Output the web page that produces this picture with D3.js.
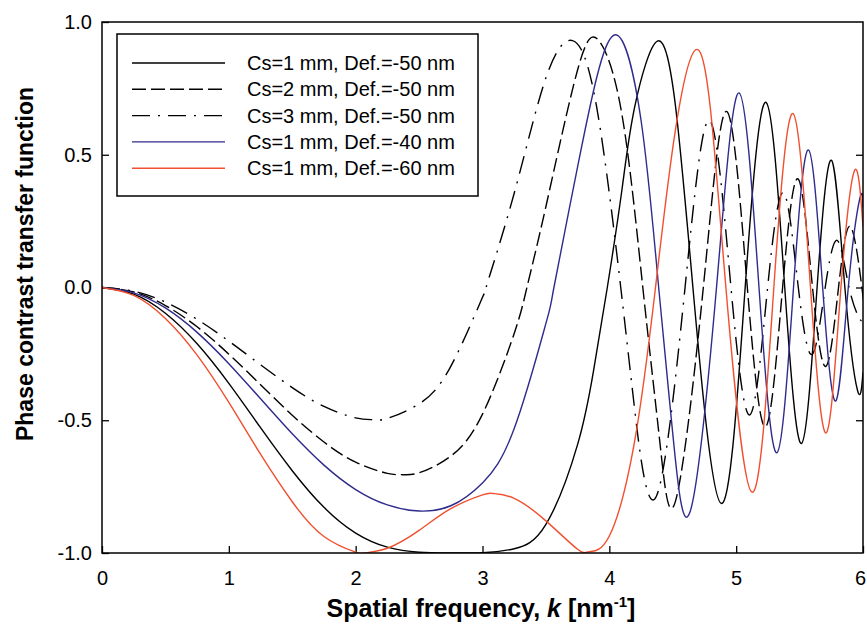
<!DOCTYPE html>
<html>
<head>
<meta charset="utf-8">
<script src="https://d3js.org/d3.v7.min.js"></script>
<style>
    body { margin: 0; background: #fff; }
    #chart { width: 867px; height: 638px; }
    text { font-family: "Liberation Sans", Arial, sans-serif; }
</style>
</head>
<body>
<div id="chart"></div>
<script>

// tick values
const xTicks = [0, 1, 2, 3, 4, 5, 6];
const yTicks = [-1.0, -0.5, 0.0, 0.5, 1.0];
const innerTicksY = [-0.5, 0.0, 0.5];

const seriesLabels = [
    "Cs=1 mm, Def.=-50 nm",
    "Cs=2 mm, Def.=-50 nm",
    "Cs=3 mm, Def.=-50 nm",
    "Cs=1 mm, Def.=-40 nm",
    "Cs=1 mm, Def.=-60 nm"
];

// [k, PCTF]
const cs1Def50 = [[0,0],[0.25,-0.025],[0.5,-0.097],[0.75,-0.212],[1.0,-0.361],[1.25,-0.528],[1.5,-0.690],
    [1.75,-0.828],[2.0,-0.925],[2.25,-0.978],[2.5,-0.997],[2.75,-1.0],[3.0,-0.999],[3.25,-0.984],[3.5,-0.892],
    [3.75,-0.591],[3.875,-0.315],[3.984,0],[4.1,0.37],[4.2,0.68],[4.379,0.928],[4.52,0.69],[4.659,0],[4.882,-0.813],
    [5.071,0],[5.236,0.697],[5.383,0],[5.516,-0.587],[5.638,0],[5.752,0.479],[5.857,0],[5.957,-0.388],[6.0,-0.32]];

const cs2Def50 = [[0,0],[0.25,-0.017],[0.5,-0.068],[0.75,-0.148],[1.0,-0.251],[1.25,-0.366],[1.5,-0.481],
    [1.75,-0.582],[2.0,-0.658],[2.25,-0.700],[2.369,-0.705],[2.5,-0.698],[2.75,-0.635],[3.0,-0.477],[3.25,-0.173],
    [3.35,0],[3.5,0.305],[3.75,0.82],[3.917,0.93],[4.1,0.65],[4.264,0],[4.4,-0.59],[4.526,-0.797],[4.741,0],
    [4.925,0.663],[5.088,0],[5.233,-0.524],[5.366,0],[5.488,0.409],[5.602,0],[5.708,-0.297],[5.807,0],
    [5.902,0.229],[5.991,0],[6.0,-0.03]];

const cs3Def50 = [[0,0],[0.25,-0.014],[0.5,-0.055],[0.75,-0.120],[1.0,-0.202],[1.25,-0.291],[1.5,-0.377],
    [1.75,-0.448],[2.0,-0.491],[2.141,-0.498],[2.25,-0.493],[2.5,-0.438],[2.75,-0.297],[3.0,-0.037],[3.028,0],
    [3.25,0.355],[3.5,0.79],[3.71,0.93],[3.9,0.68],[4.09,0],[4.2,-0.46],[4.37,-0.787],[4.597,0],[4.79,0.629],
    [4.959,0],[5.11,-0.479],[5.248,0],[5.374,0.357],[5.49,0],[5.599,-0.252],[5.702,0],[5.798,0.177],[5.89,0],
    [5.977,-0.12],[6.0,-0.11]];

const cs1Def40 = [[0,0],[0.25,-0.020],[0.5,-0.077],[0.75,-0.169],[1.0,-0.287],[1.25,-0.419],[1.5,-0.551],
    [1.75,-0.669],[2.0,-0.761],[2.25,-0.819],[2.5,-0.842],[2.75,-0.822],[3.0,-0.736],[3.25,-0.531],[3.5,-0.135],
    [3.563,0],[3.75,0.455],[3.9,0.79],[4.065,0.95],[4.25,0.63],[4.389,0],[4.5,-0.55],[4.638,-0.843],[4.845,0],
    [5.023,0.733],[5.18,0],[5.322,-0.622],[5.452,0],[5.571,0.518],[5.682,0],[5.786,-0.427],[5.884,0],
    [5.976,0.337],[6.0,0.30]];

const cs1Def60 = [[0,0],[0.25,-0.030],[0.5,-0.117],[0.75,-0.255],[1.0,-0.433],[1.25,-0.628],[1.5,-0.807],
    [1.75,-0.938],[2.0,-0.997],[2.07,-1.0],[2.25,-0.982],[2.5,-0.915],[2.75,-0.833],[3.0,-0.781],[3.085,-0.776],
    [3.25,-0.794],[3.5,-0.879],[3.75,-0.986],[3.842,-0.995],[4.0,-0.936],[4.2,-0.578],[4.364,0],[4.52,0.59],
    [4.683,0.896],[4.8,0.66],[4.919,0],[5.125,-0.771],[5.297,0],[5.449,0.655],[5.586,0],[5.711,-0.547],
    [5.826,0],[5.934,0.441],[6.0,0.23]];

const seriesData = [cs1Def50, cs2Def50, cs3Def50, cs1Def40, cs1Def60];
const seriesColors = ["#000000", "#000000", "#000000", "#2f2b8c", "#f0502f"];
const seriesDash = ["none", "14,5", "18,8,2,8", "none", "none"];


class PctfVis {

    constructor(parentElement) {
        this.parentElement = parentElement;
        this.initVis();
    }

    initVis() {
        let vis = this;

        vis.margin = {top: 22, right: 4, bottom: 85, left: 102};
        vis.width = 867 - vis.margin.left - vis.margin.right;
        vis.height = 638 - vis.margin.top - vis.margin.bottom;

        vis.svgRoot = d3.select("#" + vis.parentElement).append("svg")
            .attr("width", 867)
            .attr("height", 638);

        vis.svg = vis.svgRoot.append("g")
            .attr("transform", `translate(${vis.margin.left}, ${vis.margin.top})`);

        vis.x = d3.scaleLinear().domain([0, 6]).range([0, vis.width]);
        vis.y = d3.scaleLinear().domain([-1, 1]).range([vis.height, 0]);

        vis.svg.append("clipPath").attr("id", "plot-clip")
            .append("rect")
            .attr("width", vis.width)
            .attr("height", vis.height);

        // axes (ticks point inwards)
        vis.xAxis = d3.axisBottom(vis.x)
            .tickValues(xTicks)
            .tickFormat(d3.format("d"))
            .tickSizeInner(-7)
            .tickSizeOuter(0)
            .tickPadding(18);

        vis.yAxis = d3.axisLeft(vis.y)
            .tickValues(yTicks)
            .tickFormat(d3.format(".1f"))
            .tickSizeInner(-7)
            .tickSizeOuter(0)
            .tickPadding(10);

        vis.yAxisRight = d3.axisRight(vis.y)
            .tickValues(innerTicksY)
            .tickFormat("")
            .tickSizeInner(-7)
            .tickSizeOuter(0);

        vis.xAxisGroup = vis.svg.append("g")
            .attr("class", "x-axis")
            .attr("transform", `translate(0, ${vis.height})`)
            .call(vis.xAxis);

        vis.yAxisGroup = vis.svg.append("g")
            .attr("class", "y-axis")
            .call(vis.yAxis);

        vis.svg.append("g")
            .attr("transform", `translate(${vis.width}, 0)`)
            .call(vis.yAxisRight);

        vis.svg.selectAll(".domain").remove();
        vis.svg.selectAll(".tick line").attr("stroke", "#000").attr("stroke-width", 1.3);
        vis.svg.selectAll(".tick text")
            .attr("font-size", "20px")
            .attr("fill", "#000")
            .style("font-family", "'Liberation Sans', Arial, sans-serif");
        vis.yAxisGroup.selectAll(".tick text").text(d => d3.format(".1f")(d).replace("−", "-"));

        // last label sits at the very edge of the page
        vis.xAxisGroup.selectAll(".tick text")
            .filter(d => d === 6)
            .attr("dx", -3);

        // curves
        vis.line = d3.line()
            .x(d => vis.x(d[0]))
            .y(d => vis.y(d[1]))
            .curve(d3.curveNatural);

        vis.svg.append("g")
            .attr("clip-path", "url(#plot-clip)")
            .selectAll(".curve")
            .data(seriesData)
            .join("path")
            .attr("class", "curve")
            .attr("d", d => vis.line(d))
            .attr("fill", "none")
            .attr("stroke", (d, i) => seriesColors[i])
            .attr("stroke-width", 1.4)
            .attr("stroke-dasharray", (d, i) => seriesDash[i]);

        // frame
        vis.svg.append("rect")
            .attr("width", vis.width)
            .attr("height", vis.height)
            .attr("fill", "none")
            .attr("stroke", "#000")
            .attr("stroke-width", 1.5);

        // legend
        let legend = vis.svgRoot.append("g").attr("class", "legend");
        legend.append("rect")
            .attr("x", 117).attr("y", 34)
            .attr("width", 361).attr("height", 162)
            .attr("fill", "#fff")
            .attr("stroke", "#000")
            .attr("stroke-width", 1.5);

        let rows = legend.selectAll(".legend-row")
            .data(seriesLabels)
            .join("g")
            .attr("class", "legend-row")
            .attr("transform", (d, i) => `translate(0, ${63 + i * 26.3})`);

        rows.append("line")
            .attr("x1", 132).attr("x2", 225)
            .attr("stroke", (d, i) => seriesColors[i])
            .attr("stroke-width", 1.4)
            .attr("stroke-dasharray", (d, i) => seriesDash[i]);

        rows.append("text")
            .attr("x", 247)
            .attr("dy", "0.35em")
            .attr("font-size", "20px")
            .text(d => d);

        // axis titles
        vis.svgRoot.append("text")
            .attr("transform", "translate(33, 264) rotate(-90)")
            .attr("text-anchor", "middle")
            .attr("font-size", "23px")
            .attr("font-weight", "bold")
            .text("Phase contrast transfer function");

        let xTitle = vis.svgRoot.append("text")
            .attr("x", 481)
            .attr("y", 617)
            .attr("text-anchor", "middle")
            .attr("font-size", "25px")
            .attr("font-weight", "bold");
        xTitle.append("tspan").text("Spatial frequency, ");
        xTitle.append("tspan").attr("font-style", "italic").text("k");
        xTitle.append("tspan").text(" [nm");
        xTitle.append("tspan").attr("font-size", "15px").attr("dy", "-10").text("-1");
        xTitle.append("tspan").attr("dy", "10").text("]");
    }
}

new PctfVis("chart");

</script>
</body>
</html>
